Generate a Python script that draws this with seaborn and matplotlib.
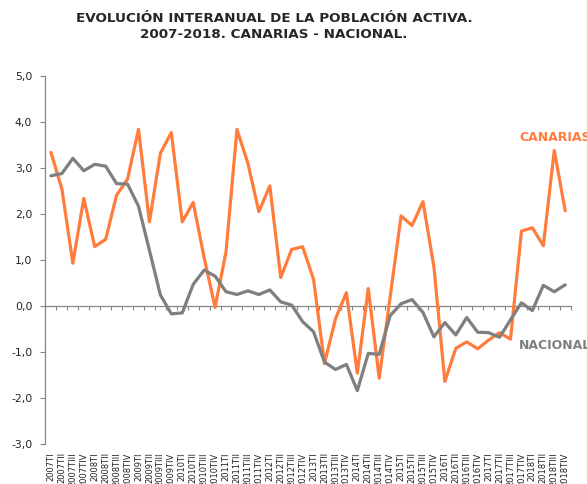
import numpy as np
import pandas as pd
import matplotlib
matplotlib.use("Agg")
import matplotlib.pyplot as plt
import seaborn as sns

years = list(range(2007, 2019))
quarters = ["TI", "TII", "TIII", "TIV"]
periodos = [f"{y}{q}" for y in years for q in quarters]

canarias = [3.34, 2.54, 0.93, 2.34, 1.29, 1.45, 2.41, 2.76, 3.84, 1.83, 3.32, 3.77,
            1.83, 2.25, 1.05, -0.03, 1.18, 3.84, 3.10, 2.05, 2.61, 0.62, 1.23, 1.29,
            0.58, -1.25, -0.28, 0.29, -1.46, 0.38, -1.57, 0.20, 1.96, 1.75, 2.27, 0.85,
            -1.64, -0.92, -0.78, -0.93, -0.74, -0.58, -0.72, 1.63, 1.70, 1.31, 3.38, 2.07]

nacional = [2.83, 2.88, 3.21, 2.94, 3.08, 3.04, 2.66, 2.65, 2.17, 1.21, 0.24, -0.17,
            -0.15, 0.47, 0.78, 0.65, 0.31, 0.25, 0.33, 0.25, 0.35, 0.09, 0.02, -0.34,
            -0.56, -1.22, -1.38, -1.27, -1.84, -1.03, -1.05, -0.21, 0.05, 0.14, -0.14, -0.67,
            -0.36, -0.63, -0.25, -0.57, -0.58, -0.68, -0.30, 0.07, -0.10, 0.45, 0.31, 0.46]

colores = {"CANARIAS": "#FF7C3C", "NACIONAL": "#7F7F7F"}

df = pd.DataFrame({
    "periodo": periodos * 2,
    "pos": list(range(len(periodos))) * 2,
    "serie": ["CANARIAS"] * len(periodos) + ["NACIONAL"] * len(periodos),
    "valor": canarias + nacional,
})

sns.set_style("white")
plt.rcParams["font.family"] = ["DejaVu Sans"]

fig = plt.figure(figsize=(5.87, 4.84), dpi=100)
ax = fig.add_axes([0.0775, 0.0826, 0.8947, 0.7604])

sns.lineplot(data=df, x="pos", y="valor", hue="serie", palette=colores,
             linewidth=2.3, legend=False, ax=ax, sort=False)

n = len(periodos)
ax.set_xlim(-0.5, n - 0.5)
ax.set_ylim(-3, 5)
ax.set_yticks(np.arange(-3, 5.1, 1))
ax.set_yticklabels([f"{v:.1f}".replace(".", ",") for v in np.arange(-3, 5.1, 1)],
                   fontsize=7.8, color="#222222")
ax.set_xticks(range(n))
ax.set_xticklabels(periodos, rotation=90, fontsize=6, color="#222222", va="top")
ax.tick_params(axis="x", length=0, pad=6)
ax.tick_params(axis="y", length=3.5, width=0.8, color="#868686", direction="out", pad=6, left=True)
ax.set_xlabel("")
ax.set_ylabel("")

for s in ["top", "right", "bottom"]:
    ax.spines[s].set_visible(False)
ax.spines["left"].set_color("#868686")
ax.spines["left"].set_linewidth(0.9)

# eje horizontal en el cero con marcas entre trimestres
sec = ax.secondary_xaxis(3 / 8)
sec.set_xticks(np.arange(-0.5, n, 1))
sec.tick_params(length=3, width=0.8, color="#868686", direction="out", labelbottom=False)
sec.spines["bottom"].set_color("#868686")
sec.spines["bottom"].set_linewidth(0.9)

ax.text(42.8, 3.67, "CANARIAS", color=colores["CANARIAS"], fontsize=9,
        fontweight="bold", ha="left", va="center", clip_on=False)
ax.text(42.8, -0.86, "NACIONAL", color=colores["NACIONAL"], fontsize=9,
        fontweight="bold", ha="left", va="center", clip_on=False)

fig.text(0.467, 0.975, "EVOLUCIÓN INTERANUAL DE LA POBLACIÓN ACTIVA.\n2007-2018. CANARIAS - NACIONAL.",
         ha="center", va="top", fontsize=9.7, fontweight="bold", linespacing=1.3)

fig.savefig("out.png", dpi=100)
